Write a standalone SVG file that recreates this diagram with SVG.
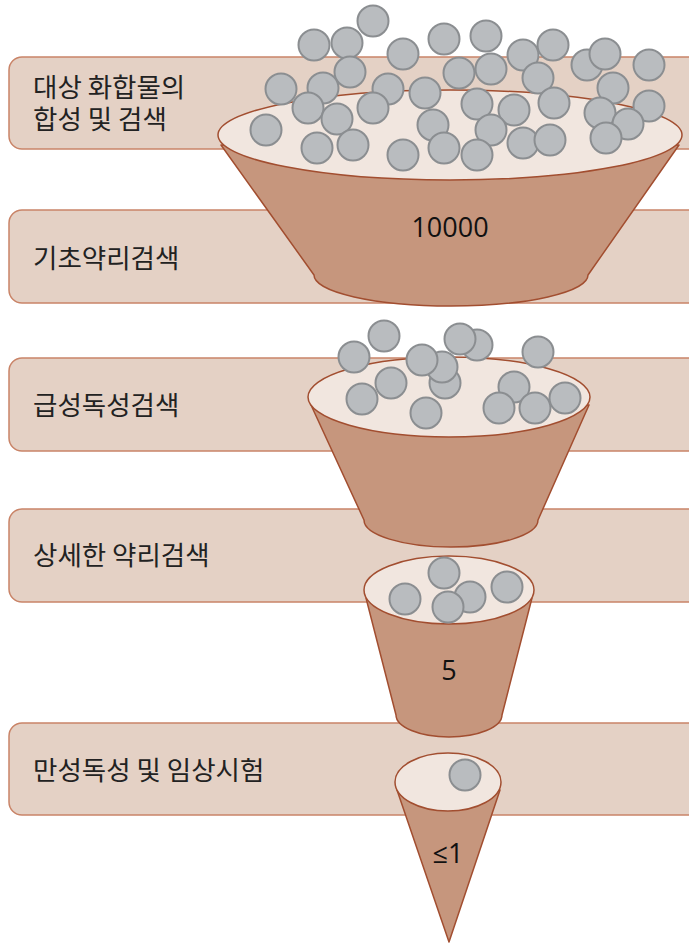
<svg xmlns="http://www.w3.org/2000/svg" width="689" height="944" viewBox="0 0 689 944">
<style>
.band{fill:#e4d1c5;stroke:#c98468;stroke-width:1.5}
.lbl{font-family:"Noto Sans CJK KR","Noto Sans",sans-serif;font-size:26.5px;fill:#222}
.num{font-family:"Open Sans","Liberation Sans",sans-serif;font-size:27px;fill:#111;text-anchor:middle}
.body{fill:#c6967d;stroke:#a24e30;stroke-width:1.5;stroke-linejoin:round}
.rim{fill:#f1e6df;stroke:#a24e30;stroke-width:1.5}
.b circle{fill:#b9bcbf;stroke:#8b8e91;stroke-width:2}
</style>
<rect width="689" height="944" fill="#ffffff"/>
<g id="band1"><rect class="band" x="9" y="57" width="692" height="92" rx="13"/><text class="lbl" x="33" y="97">대상 화합물의</text><text class="lbl" x="33" y="129">합성 및 검색</text></g>
<g id="band2"><rect class="band" x="9" y="210" width="692" height="93" rx="13"/><text class="lbl" x="33" y="268">기초약리검색</text></g>
<g id="band3"><rect class="band" x="9" y="358" width="692" height="93" rx="13"/><text class="lbl" x="33" y="415">급성독성검색</text></g>
<g id="band4"><rect class="band" x="9" y="509" width="692" height="93" rx="13"/><text class="lbl" x="33" y="565">상세한 약리검색</text></g>
<g id="band5"><rect class="band" x="9" y="723" width="692" height="92" rx="13"/><text class="lbl" x="33" y="780">만성독성 및 임상시험</text></g>

<g id="funnel1">
<path class="body" d="M221 145 L314 275 A137 31 0 0 0 588 275 L679 145 Z"/>
<ellipse class="rim" cx="450" cy="135" rx="232" ry="45"/>
<text class="num" x="450" y="237">10000</text>
<g class="b">
<circle cx="373" cy="21" r="15.5"/><circle cx="314" cy="45" r="15.5"/><circle cx="347" cy="43" r="15.5"/><circle cx="403" cy="54" r="15.5"/><circle cx="444" cy="39" r="15.5"/><circle cx="486" cy="36" r="15.5"/><circle cx="553" cy="45" r="15.5"/><circle cx="523" cy="55" r="15.5"/><circle cx="587" cy="65" r="15.5"/><circle cx="605" cy="54" r="15.5"/><circle cx="649" cy="65" r="15.5"/><circle cx="350" cy="72" r="15.5"/><circle cx="459" cy="73" r="15.5"/><circle cx="491" cy="69" r="15.5"/><circle cx="538" cy="78" r="15.5"/><circle cx="281" cy="89" r="15.5"/><circle cx="323" cy="88" r="15.5"/><circle cx="388" cy="89" r="15.5"/><circle cx="425" cy="93" r="15.5"/><circle cx="613" cy="88" r="15.5"/><circle cx="308" cy="108" r="15.5"/><circle cx="337" cy="119" r="15.5"/><circle cx="373" cy="108" r="15.5"/><circle cx="477" cy="104" r="15.5"/><circle cx="514" cy="110" r="15.5"/><circle cx="554" cy="103" r="15.5"/><circle cx="600" cy="113" r="15.5"/><circle cx="649" cy="106" r="15.5"/><circle cx="266" cy="130" r="15.5"/><circle cx="433" cy="125" r="15.5"/><circle cx="491" cy="130" r="15.5"/><circle cx="628" cy="124" r="15.5"/><circle cx="317" cy="148" r="15.5"/><circle cx="353" cy="145" r="15.5"/><circle cx="403" cy="155" r="15.5"/><circle cx="444" cy="148" r="15.5"/><circle cx="477" cy="155" r="15.5"/><circle cx="523" cy="143" r="15.5"/><circle cx="550" cy="140" r="15.5"/><circle cx="606" cy="138" r="15.5"/>
</g>
</g>

<g id="funnel2">
<path class="body" d="M311 405 L364 520 A87 27 0 0 0 538 520 L589 405 Z"/>
<ellipse class="rim" cx="449" cy="397" rx="141" ry="40"/>
<g class="b">
<circle cx="384" cy="336" r="15.5"/><circle cx="354" cy="357" r="15.5"/><circle cx="477" cy="345" r="15.5"/><circle cx="460" cy="339" r="15.5"/><circle cx="538" cy="352" r="15.5"/><circle cx="445" cy="383" r="15.5"/><circle cx="442" cy="367" r="15.5"/><circle cx="422" cy="360" r="15.5"/><circle cx="391" cy="383" r="15.5"/><circle cx="362" cy="399" r="15.5"/><circle cx="426" cy="413" r="15.5"/><circle cx="514" cy="387" r="15.5"/><circle cx="499" cy="408" r="15.5"/><circle cx="535" cy="408" r="15.5"/><circle cx="565" cy="398" r="15.5"/>
</g>
</g>

<g id="funnel3">
<path class="body" d="M366 598 L396 715 A53 22 0 0 0 502 715 L532 598 Z"/>
<ellipse class="rim" cx="449" cy="590" rx="85" ry="34"/>
<text class="num" x="449" y="680">5</text>
<g class="b">
<circle cx="444" cy="573" r="15.5"/><circle cx="405" cy="599" r="15.5"/><circle cx="470" cy="597" r="15.5"/><circle cx="507" cy="587" r="15.5"/><circle cx="448" cy="607" r="15.5"/>
</g>
</g>

<g id="funnel4">
<path class="body" d="M397 790 L449 942 L500 790 Z"/>
<ellipse class="rim" cx="448" cy="782" rx="53" ry="29"/>
<text class="num" x="448" y="863">≤1</text>
<g class="b"><circle cx="465" cy="775" r="15.5"/></g>
</g>
<g id="connectors"/>
</svg>
